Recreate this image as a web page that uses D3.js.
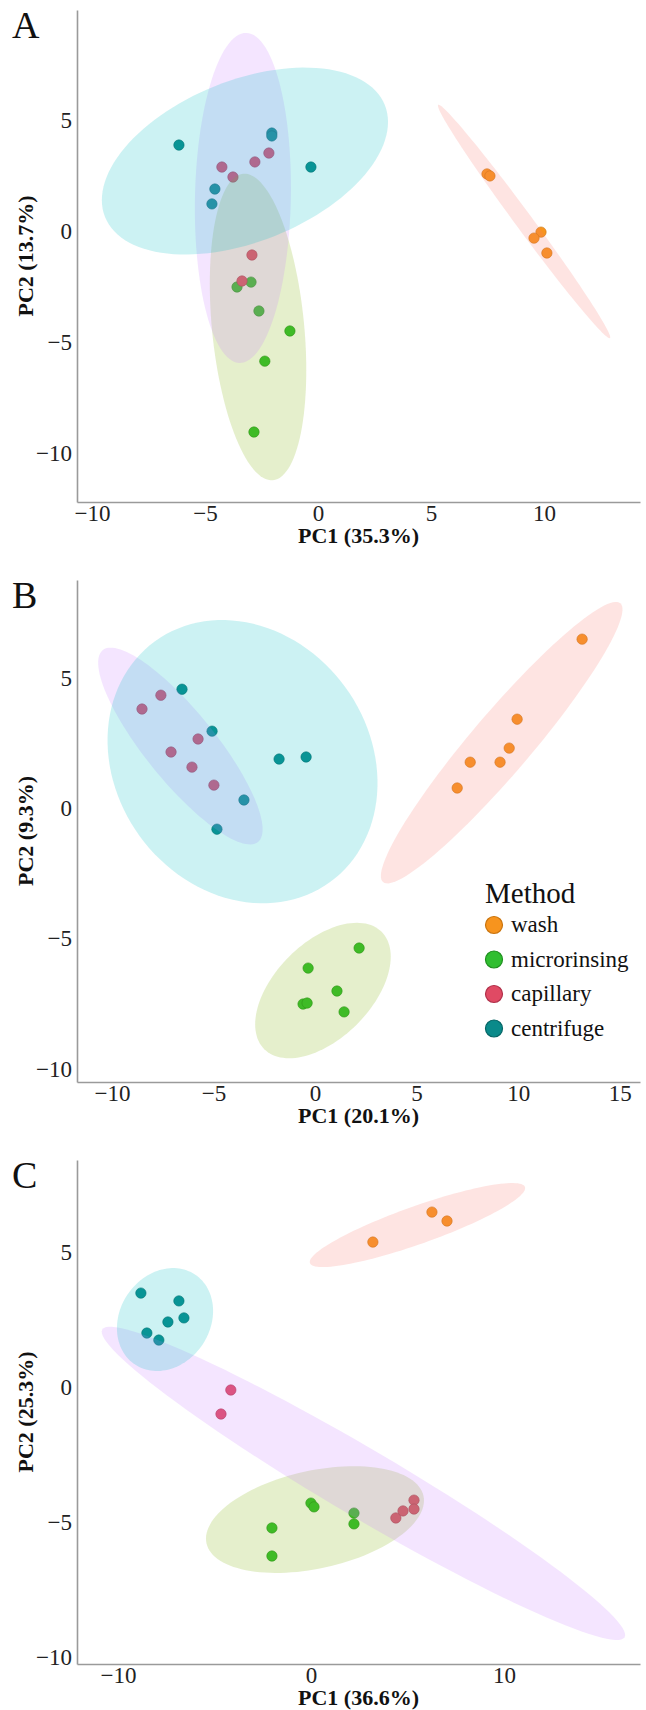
<!DOCTYPE html>
<html>
<head>
<meta charset="utf-8">
<script src="https://cdn.jsdelivr.net/npm/d3@7"></script>
<style>
  body { margin: 0; background: #fff; }
  svg { display: block; font-family: "Liberation Serif", "Times New Roman", serif; }
  .domain { stroke: #9a9a9a; stroke-width: 1.6; }
</style>
</head>
<body>
<svg id="chart" width="646" height="1710"></svg>
<script>
// groups, in legend order
var methods = ['wash', 'microrinsing', 'capillary', 'centrifuge']
var pointColors = ['#F7941E', '#30BE30', '#E04A64', '#0A8A8A']
var pointStrokes = ['#C9740E', '#1E8F1E', '#B0304A', '#056565']
var ellipseFills = ['#F8766D', '#7CAE00', '#C77CFF', '#00BFC4']

// PC scores, [PC1, PC2]
var washA = [[7.48, 2.57], [7.61, 2.48], [9.87, -0.05], [9.56, -0.32], [10.13, -0.99]]
var microA = [[-2.96, -2.30], [-3.58, -2.52], [-2.61, -3.60], [-1.24, -4.50], [-2.35, -5.86], [-2.83, -9.05]]
var capA = [[-4.25, 2.88], [-3.76, 2.43], [-2.79, 3.11], [-2.17, 3.51], [-2.92, -1.08], [-3.36, -2.25]]
var centA = [[-6.15, 3.87], [-2.04, 4.41], [-2.04, 4.28], [-0.31, 2.88], [-4.56, 1.89], [-4.69, 1.22]]

var washB = [[13.15, 6.48], [9.95, 3.41], [9.56, 2.30], [7.64, 1.76], [9.11, 1.76], [7.00, 0.77]]
var microB = [[2.17, -5.37], [-0.34, -6.14], [1.08, -7.02], [-0.59, -7.52], [-0.39, -7.48], [1.43, -7.82]]
var capB = [[-8.52, 3.80], [-7.59, 4.33], [-5.76, 2.65], [-7.09, 2.15], [-6.06, 1.57], [-4.98, 0.88]]
var centB = [[-6.55, 4.56], [-5.07, 2.95], [-1.77, 1.88], [-0.44, 1.96], [-3.50, 0.31], [-4.83, -0.81]]

var washC = [[3.21, 5.37], [6.27, 6.48], [7.05, 6.15]]
var microC = [[0, -4.30], [0.16, -4.44], [2.23, -4.67], [2.23, -5.07], [-2.02, -5.22], [-2.02, -6.26]]
var capC = [[-4.15, -0.11], [-4.66, -1.00], [4.40, -4.85], [4.77, -4.59], [5.34, -4.19], [5.34, -4.52]]
var centC = [[-8.81, 3.48], [-6.84, 3.19], [-6.58, 2.56], [-7.41, 2.41], [-8.50, 2.00], [-7.88, 1.74]]

// ellipses: [centre x, centre y, axis 1 (dx, dy), axis 2 (dx, dy)] in PC units
var ellA = [[9.12, 0.43, 3.80, -5.25, 0.30, 0.23],
            [-2.65, -4.32, -0.66, 6.90, -2.03, -0.20],
            [-3.32, 1.49, 0.15, 7.43, -2.12, 0.05],
            [-3.23, 3.15, 6.19, 2.52, -1.33, 3.37]]
var ellB = [[9.19, 2.51, 5.84, 5.35, -1.13, 0.74],
            [0.39, -7.0, 2.89, 2.25, -1.67, 1.30],
            [-6.63, 2.38, 3.82, -3.68, 1.34, 0.84],
            [-3.57, 1.78, -4.31, 4.62, -5.06, -2.86]]
var ellC = [[5.52, 6.0, 5.57, 1.41, -0.33, 0.66],
            [0.21, -4.91, 5.62, 0.88, -0.55, 1.77],
            [2.72, -3.57, 13.53, -5.70, 0.89, 1.08],
            [-7.56, 2.50, 1.55, 1.67, -1.95, 0.92]]

var panels = [
  {label: 'A', xLab: 'PC1 (35.3%)', yLab: 'PC2 (13.7%)', top: 10, bottom: 502,
   xDom: [-10.66, 14.25], yDom: [-12.2, 9.95], xTicks: [-10, -5, 0, 5, 10], yTicks: [-10, -5, 0, 5],
   pts: [washA, microA, capA, centA], ell: ellA},
  {label: 'B', xLab: 'PC1 (20.1%)', yLab: 'PC2 (9.3%)', top: 580, bottom: 1082,
   xDom: [-11.72, 16.0], yDom: [-10.51, 8.75], xTicks: [-10, -5, 0, 5, 10, 15], yTicks: [-10, -5, 0, 5],
   pts: [washB, microB, capB, centB], ell: ellB, legend: true},
  {label: 'C', xLab: 'PC1 (36.6%)', yLab: 'PC2 (25.3%)', top: 1160, bottom: 1664,
   xDom: [-12.12, 17.05], yDom: [-10.26, 8.41], xTicks: [-10, 0, 10], yTicks: [-10, -5, 0, 5],
   pts: [washC, microC, capC, centC], ell: ellC}
]

var left = 77, right = 640
var serif = '"Liberation Serif", "Times New Roman", serif'
var svg = d3.select('#chart')
var angles = d3.range(0, 2 * Math.PI, Math.PI / 60)

function styleAxis(sel){
  sel.attr('font-family', serif).attr('font-size', 23)
  sel.selectAll('.tick text')
    .attr('fill', '#222')
    .style('font-family', serif)
    .style('font-size', '23px')
}

panels.forEach(p => {
  var x = d3.scaleLinear().domain(p.xDom).range([left, right])
  var y = d3.scaleLinear().domain(p.yDom).range([p.bottom, p.top])
  var g = svg.append('g')

  g.append('g').attr('transform', `translate(0,${p.bottom})`)
    .call(d3.axisBottom(x).tickValues(p.xTicks).tickSize(0).tickSizeOuter(0).tickPadding(3))
    .call(styleAxis)
  g.append('g').attr('transform', `translate(${left},0)`)
    .call(d3.axisLeft(y).tickValues(p.yTicks).tickSize(0).tickSizeOuter(0).tickPadding(5))
    .call(styleAxis)

  // points go under the translucent ellipses
  p.pts.forEach((pts, i) => {
    g.selectAll(null).data(pts).join('circle')
      .attr('cx', d => x(d[0])).attr('cy', d => y(d[1])).attr('r', 5.2)
      .attr('fill', pointColors[i]).attr('stroke', pointStrokes[i]).attr('stroke-width', 0.6)
  })

  var line = d3.line().curve(d3.curveLinearClosed)
  p.ell.forEach((e, i) => {
    var ring = angles.map(t => [
      x(e[0] + e[2] * Math.cos(t) + e[4] * Math.sin(t)),
      y(e[1] + e[3] * Math.cos(t) + e[5] * Math.sin(t))
    ])
    g.append('path').attr('d', line(ring))
      .attr('fill', ellipseFills[i]).attr('fill-opacity', 0.2)
  })

  g.append('text').text(p.label)
    .attr('x', 12).attr('y', p.top + 28)
    .style('font-size', '38px').attr('fill', '#111')

  g.append('text').text(p.xLab)
    .attr('x', (left + right) / 2).attr('y', p.bottom + 41)
    .attr('text-anchor', 'middle')
    .style('font-size', '22px').style('font-weight', 'bold').attr('fill', '#111')

  g.append('text').text(p.yLab)
    .attr('transform', `translate(33,${(p.top + p.bottom) / 2}) rotate(-90)`)
    .attr('text-anchor', 'middle')
    .style('font-size', '22px').style('font-weight', 'bold').attr('fill', '#111')

  if (p.legend){
    var lg = g.append('g').attr('transform', `translate(485,${p.top + 323})`)
    lg.append('text').text('Method').style('font-size', '29px').attr('fill', '#111')
    methods.forEach((m, i) => {
      var cy = 22 + i * 34.5
      lg.append('circle').attr('cx', 9).attr('cy', cy).attr('r', 8.5)
        .attr('fill', pointColors[i]).attr('stroke', pointStrokes[i]).attr('stroke-width', 1.2)
      lg.append('text').text(m).attr('x', 26).attr('y', cy + 7)
        .style('font-size', '23px').attr('fill', '#111')
    })
  }
})
</script>
</body>
</html>
